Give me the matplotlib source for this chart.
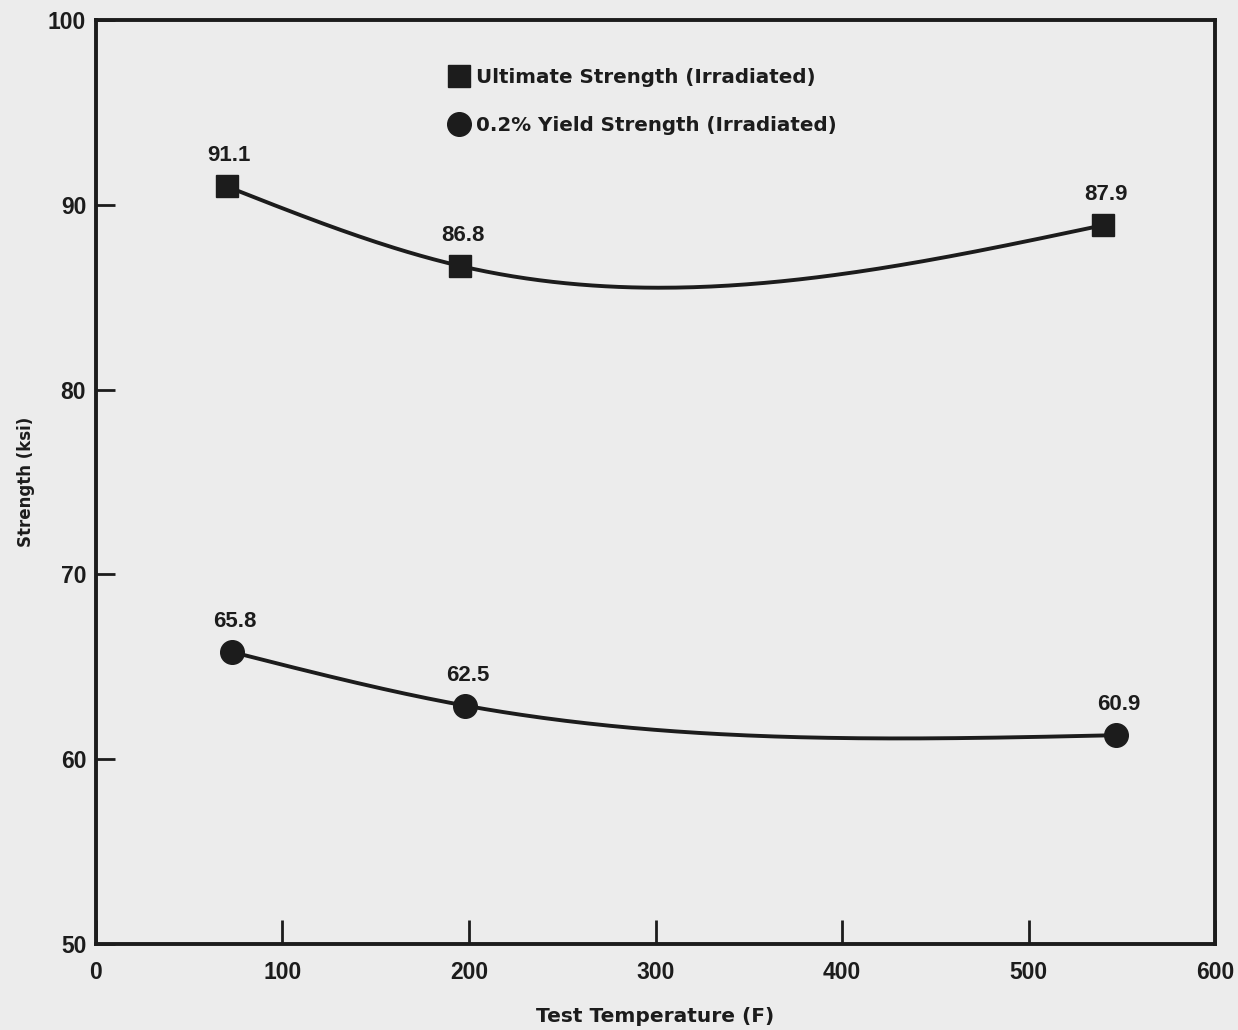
import numpy as np
import matplotlib
matplotlib.use("Agg")
import matplotlib.pyplot as plt

# values
ult_temp = [70, 195, 540]
ult_ksi = [91.0, 86.7, 88.9]
ult_text = ["91.1", "86.8", "87.9"]

yld_temp = [73, 198, 547]
yld_ksi = [65.8, 62.9, 61.3]
yld_text = ["65.8", "62.5", "60.9"]

xticks = [0, 100, 200, 300, 400, 500, 600]
yticks = [50, 60, 70, 80, 90, 100]

ink = "#1c1c1c"
paper = "#ececec"
wide = ["DejaVu Sans"]


def natural_spline(x, y, n=200):
    # natural cubic spline through the points, used only to draw the smooth curve
    x = np.asarray(x, float)
    y = np.asarray(y, float)
    h = np.diff(x)
    k = len(x)
    A = np.zeros((k, k))
    r = np.zeros(k)
    A[0, 0] = A[-1, -1] = 1
    for i in range(1, k - 1):
        A[i, i - 1] = h[i - 1]
        A[i, i] = 2 * (h[i - 1] + h[i])
        A[i, i + 1] = h[i]
        r[i] = 6 * ((y[i + 1] - y[i]) / h[i] - (y[i] - y[i - 1]) / h[i - 1])
    M = np.linalg.solve(A, r)
    xs = np.linspace(x[0], x[-1], n)
    ys = np.empty_like(xs)
    for j, xv in enumerate(xs):
        i = min(np.searchsorted(x, xv, side="right") - 1, k - 2)
        a = x[i + 1] - xv
        b = xv - x[i]
        ys[j] = (M[i] * a ** 3 + M[i + 1] * b ** 3) / (6 * h[i]) \
            + (y[i] / h[i] - M[i] * h[i] / 6) * a \
            + (y[i + 1] / h[i] - M[i + 1] * h[i] / 6) * b
    return xs, ys


plt.rcParams["font.family"] = ["Liberation Sans", "DejaVu Sans"]
plt.rcParams["font.weight"] = "bold"

fig = plt.figure(figsize=(12.38, 10.30), dpi=100, facecolor=paper)
ax = fig.add_axes([0.0775, 0.0835, 0.904, 0.897], facecolor=paper)

for tx, ty, lab, mk, ms in [(ult_temp, ult_ksi, "Ultimate Strength (Irradiated)", "s", 15.5),
                            (yld_temp, yld_ksi, "0.2% Yield Strength (Irradiated)", "o", 17)]:
    xs, ys = natural_spline(tx, ty)
    ax.plot(xs, ys, color=ink, lw=2.8, solid_capstyle="round")
    ax.plot(tx, ty, ls="none", marker=mk, ms=ms, color=ink, label=lab)

for tx, ty, tt in [(ult_temp, ult_ksi, ult_text), (yld_temp, yld_ksi, yld_text)]:
    for x, y, t in zip(tx, ty, tt):
        ax.annotate(t, (x, y), xytext=(2, 22), textcoords="offset points",
                    ha="center", va="center", fontsize=16, color=ink, fontweight="bold")

ax.set_xlim(0, 600)
ax.set_ylim(50, 100)
ax.set_xticks(xticks)
ax.set_yticks(yticks)
ax.tick_params(axis="both", direction="in", color=ink, width=2, labelcolor=ink,
               labelsize=16.5)
ax.tick_params(axis="x", length=17, pad=12)
ax.tick_params(axis="y", length=14, pad=7)
for s in ax.spines.values():
    s.set_linewidth(2.8)
    s.set_color(ink)

ax.set_xlabel("Test Temperature (F)", fontsize=14.5, fontweight="bold", color=ink,
              labelpad=17, family=wide)
ax.set_ylabel("Strength (ksi)", fontsize=12, fontweight="bold", color=ink,
              labelpad=9, family=wide)

leg = ax.legend(loc="upper left", bbox_to_anchor=(0.301, 0.968), frameon=False,
                handlelength=0.8, handletextpad=0.45, labelspacing=1.5,
                prop={"size": 14.3, "weight": "bold", "family": wide}, markerscale=1.0)
for t in leg.get_texts():
    t.set_color(ink)

fig.savefig("out.png", dpi=100, facecolor=paper)
